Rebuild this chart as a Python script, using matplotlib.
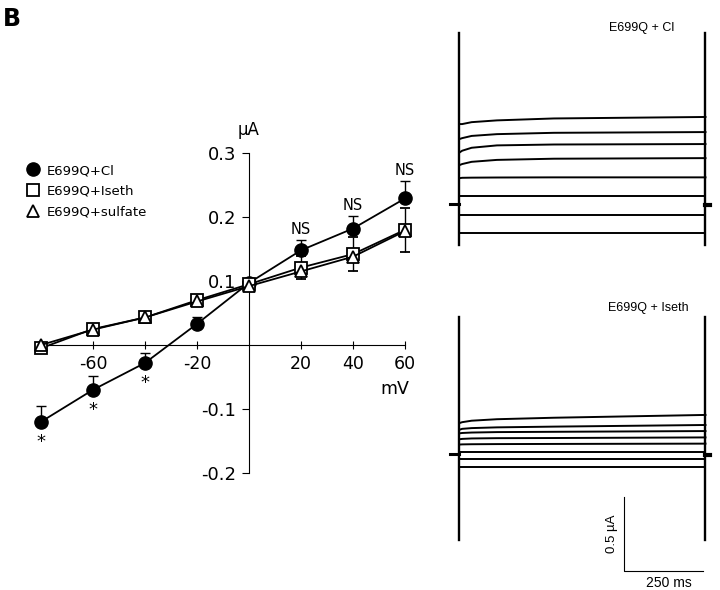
import matplotlib
matplotlib.use("Agg")
import matplotlib.pyplot as plt
from matplotlib.lines import Line2D
from matplotlib.collections import LineCollection

# ---------------- data ----------------
voltage = [-80, -60, -40, -20, 0, 20, 40, 60]
cl_mean = [-0.120, -0.070, -0.028, 0.033, 0.097, 0.148, 0.182, 0.229]
cl_err = [0.025, 0.022, 0.015, 0.010, 0.0, 0.016, 0.020, 0.028]
iseth_mean = [-0.005, 0.025, 0.043, 0.070, 0.095, 0.121, 0.142, 0.180]
iseth_err = [0.0, 0.003, 0.004, 0.004, 0.004, 0.018, 0.026, 0.034]
sulfate_mean = [0.000, 0.024, 0.043, 0.068, 0.092, 0.115, 0.138, 0.178]

x_ticks = [-80, -60, -40, -20, 20, 40, 60]
x_ticklabels = ["", "-60", "", "-20", "20", "40", "60"]
y_ticks = [-0.2, -0.1, 0.1, 0.2, 0.3]
y_ticklabels = ["-0.2", "-0.1", "0.1", "0.2", "0.3"]

star_v = [-80, -60, -40]
ns_v = [20, 40, 60]

legend_labels = ["E699Q+Cl", "E699Q+Iseth", "E699Q+sulfate"]

# current traces (time in ms, current in uA relative to holding)
trace_t = [3, 10, 40, 120, 300, 780]
cl_traces = [
    [0.540, 0.540, 0.553, 0.565, 0.578, 0.588],
    [0.440, 0.445, 0.460, 0.472, 0.481, 0.486],
    [0.350, 0.360, 0.380, 0.396, 0.402, 0.405],
    [0.264, 0.270, 0.285, 0.298, 0.306, 0.310],
    [0.175, 0.177, 0.178, 0.179, 0.180, 0.180],
    [0.054, 0.054, 0.054, 0.054, 0.054, 0.054],
    [-0.074, -0.074, -0.074, -0.074, -0.074, -0.074],
    [-0.196, -0.196, -0.196, -0.196, -0.196, -0.196],
]
iseth_traces = [
    [0.210, 0.215, 0.225, 0.235, 0.245, 0.264],
    [0.165, 0.170, 0.175, 0.180, 0.185, 0.196],
    [0.140, 0.142, 0.145, 0.148, 0.150, 0.155],
    [0.100, 0.102, 0.105, 0.107, 0.108, 0.112],
    [0.064, 0.065, 0.066, 0.067, 0.068, 0.070],
    [0.014, 0.014, 0.014, 0.014, 0.014, 0.014],
    [-0.034, -0.034, -0.034, -0.034, -0.034, -0.034],
    [-0.088, -0.088, -0.088, -0.088, -0.088, -0.088],
]
pulse_end = 780
cl_cap = [-0.277, 1.155]
iseth_cap = [-0.58, 0.926]
scale_i = 0.5
scale_t = 250

# ---------------- figure ----------------
W, H = 720, 590
fig = plt.figure(figsize=(W / 100, H / 100), dpi=100)
plt.rcParams['font.family'] = ['DejaVu Sans']

def fx(px):
    return px / W

def fy(py):
    return 1 - py / H

# I-V axes: x -80..60 -> px 41..405 ; y -0.2..0.3 -> px 473..153
ax = fig.add_axes([fx(41), fy(473), (405 - 41) / W, (473 - 153) / H])
ax.set_xlim(-80, 60)
ax.set_ylim(-0.2, 0.3)
ax.patch.set_visible(False)
for s in ["top", "right"]:
    ax.spines[s].set_visible(False)
ax.spines["left"].set_position(("data", 0))
ax.spines["bottom"].set_position(("data", 0))
ax.spines["left"].set_linewidth(0.8)
ax.spines["bottom"].set_linewidth(0.8)
ax.set_xticks(x_ticks)
ax.set_xticklabels(x_ticklabels, fontsize=12.5)
ax.set_yticks(y_ticks)
ax.set_yticklabels(y_ticklabels, fontsize=13)
ax.tick_params(axis="x", direction="inout", length=6, width=0.8, pad=4)
ax.tick_params(axis="y", direction="out", length=5, width=0.8, pad=4)

lw = 1.3
ax.errorbar(voltage, iseth_mean, yerr=iseth_err, color="black", lw=lw,
            marker="s", ms=8, mfc="white", mec="black", mew=1.3,
            capsize=3.5, elinewidth=1.0, capthick=1.0, zorder=3)
ax.errorbar(voltage, sulfate_mean, color="black", lw=lw,
            marker="^", ms=8, mfc="white", mec="black", mew=1.3, zorder=4)
ax.errorbar(voltage, cl_mean, yerr=[[0] * len(cl_err), cl_err], color="black", lw=lw,
            marker="o", ms=9.5, mfc="black", mec="black",
            capsize=3.5, elinewidth=1.0, capthick=1.0, zorder=2)
for art in ax.get_children():
    if isinstance(art, (Line2D, LineCollection)):
        art.set_clip_on(False)

for v in star_v:
    i = voltage.index(v)
    ax.text(v, cl_mean[i] - 0.018, "*", ha="center", va="top", fontsize=13)
for v in ns_v:
    i = voltage.index(v)
    ax.text(v, cl_mean[i] + cl_err[i] + 0.004, "NS", ha="center", va="bottom", fontsize=10.5)

ax.text(56, -0.054, "mV", ha="center", va="top", fontsize=12.5)
ax.text(0, 0.322, "µA", ha="center", va="bottom", fontsize=12)

handles = [
    Line2D([], [], ls="none", marker="o", ms=9.5, mfc="black", mec="black"),
    Line2D([], [], ls="none", marker="s", ms=8, mfc="white", mec="black", mew=1.3),
    Line2D([], [], ls="none", marker="^", ms=8, mfc="white", mec="black", mew=1.3),
]
fig.legend(handles, legend_labels, loc="upper left",
           bbox_to_anchor=(fx(26), fy(164)), frameon=False, fontsize=9.5,
           handlelength=1.0, handletextpad=0.55, labelspacing=0.6, borderpad=0, borderaxespad=0)

fig.text(fx(3), fy(7), "B", ha="left", va="top", fontsize=17, fontweight="bold")

# ---------------- traces ----------------
px_per_ms = 79 / 250
px_per_uA = 148

def trace_axes(px_left, px_right, py_top, py_bottom, t0_px, hold_py):
    a = fig.add_axes([fx(px_left), fy(py_bottom), (px_right - px_left) / W, (py_bottom - py_top) / H])
    a.set_xlim((px_left - t0_px) / px_per_ms, (px_right - t0_px) / px_per_ms)
    a.set_ylim((hold_py - py_bottom) / px_per_uA, (hold_py - py_top) / px_per_uA)
    a.axis("off")
    return a

ax1 = trace_axes(440, 720, 0, 290, 459, 204)
ax2 = trace_axes(440, 720, 295, 590, 459, 454)

for a, traces, cap in [(ax1, cl_traces, cl_cap), (ax2, iseth_traces, iseth_cap)]:
    for tr in traces:
        a.plot(trace_t, tr, color="black", lw=1.4, solid_joinstyle="round")
    a.plot([0, 0], cap, color="black", lw=1.7)
    a.plot([pulse_end, pulse_end], cap, color="black", lw=1.7)
    a.plot([-28, 0], [0, 0], color="black", lw=2.2)
    a.plot([pulse_end, pulse_end + 14], [-0.005, -0.005], color="black", lw=3)

ax1.text(579, 1.19, "E699Q + Cl", ha="center", va="center", fontsize=9, family="Liberation Sans")
ax2.text(598, 0.986, "E699Q + Iseth", ha="center", va="center", fontsize=9, family="Liberation Sans")

# scale bar
sb_t0 = 522
sb_i0 = -0.79
ax2.plot([sb_t0, sb_t0, sb_t0 + scale_t], [sb_i0 + scale_i, sb_i0, sb_i0], color="black", lw=0.8)
ax2.text(sb_t0 - 38, sb_i0 + scale_i / 2, "0.5 µA", rotation=90, ha="center", va="center",
         fontsize=9.5, family="Liberation Sans")
ax2.text(sb_t0 + 141, sb_i0 - 0.08, "250 ms", ha="center", va="center", fontsize=10,
         family="Liberation Sans")

fig.savefig("out.png", dpi=100)
